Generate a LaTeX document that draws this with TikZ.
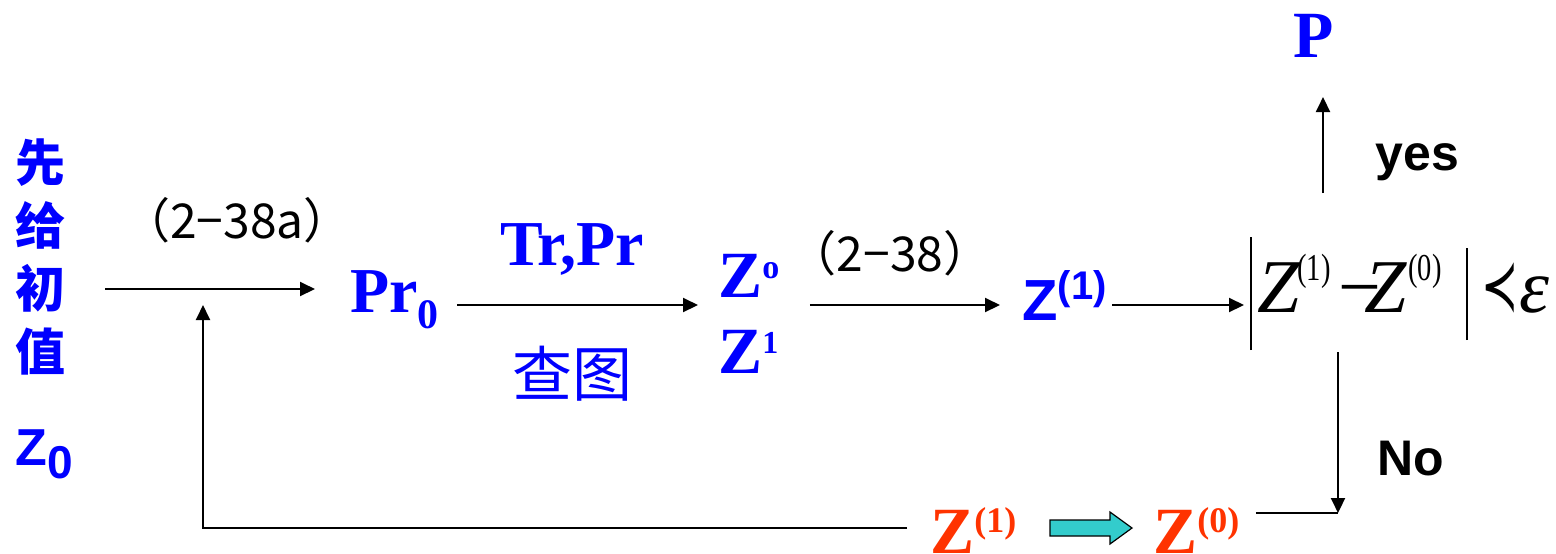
\documentclass[tikz,border=0pt]{standalone}
\usepackage{fontspec}
\setmainfont{Liberation Serif}
\setsansfont{Liberation Sans}
\newfontfamily\cjk{Noto Sans CJK SC}
\newfontfamily\relfont{DejaVu Sans}
\usetikzlibrary{arrows.meta}

\definecolor{zblue}{RGB}{0,0,255}
\definecolor{zred}{RGB}{255,51,0}
\definecolor{zteal}{RGB}{51,204,204}

\newcommand{\fs}[1]{\fontsize{#1}{#1}\selectfont}

\begin{document}
\begin{tikzpicture}[x=0.5pt, y=-0.5pt,
  arr/.style={-{Triangle[length=7.5pt,width=7pt]}, line width=1pt},
  lbl/.style={inner sep=0pt, anchor=base}]
  \useasboundingbox (0,0) rectangle (1556,553);

  % ---- start value ----
  \node[lbl, anchor=north, text=zblue, align=center,
    font=\cjk\bfseries\fontsize{25}{31.5}\selectfont] (init) at (40,138) {先\\给\\初\\值};
  \node[lbl, anchor=base west, text=zblue, font=\sffamily\bfseries\fs{26}] (zstart) at (15,465)
    {Z\raisebox{-6.5pt}{\fs{23}0}};

  % ---- first step ----
  \node[lbl, font=\cjk\fs{24}] (eqa) at (237,238) {（2−38a）};
  \node[lbl, anchor=base west, text=zblue, font=\bfseries\fs{32}] (pr0) at (350,312)
    {Pr\raisebox{-8pt}{\fs{21}0}};
  \node[lbl, text=zblue, font=\bfseries\fs{32}] (trpr) at (572,265) {Tr,Pr};
  \node[lbl, text=zblue, font=\cjk\fs{30}] (chart) at (572,396) {查图};
  \node[lbl, anchor=base west, text=zblue, font=\bfseries\fs{33}] (zsup0) at (718,297)
    {Z\raisebox{9.5pt}{\fs{17}o}};
  \node[lbl, anchor=base west, text=zblue, font=\bfseries\fs{33}] (zsup1) at (718,373)
    {Z\raisebox{10pt}{\fs{16}1}};

  % ---- second step ----
  \node[lbl, font=\cjk\fs{24}] (eqb) at (890,271) {（2−38）};
  \node[lbl, anchor=base west, text=zblue, font=\sffamily\bfseries\fs{29}] (znew) at (1022,320)
    {Z\raisebox{10.5pt}{\fs{20}(1)}};

  % ---- test ----
  \node[lbl, anchor=base west] (crit) at (1250,312) {\fs{38}%
    \vrule width 1pt height 37.5pt depth 19pt\kern2.5pt\textit{Z}\kern-1.5pt%
    \raisebox{16pt}{\scalebox{0.75}[1]{\fs{19}(1)}}\kern4pt−\kern-8.5pt\textit{Z}\kern0.5pt%
    \raisebox{16pt}{\scalebox{0.75}[1]{\fs{19}(0)}}\kern12pt%
    \vrule width 1pt height 32pt depth 14pt\kern7pt%
    \raisebox{1pt}{\scalebox{0.62}[1]{\relfont\fs{36}≺}}\kern0.5pt\textit{ε}};
  \node[lbl, text=zblue, font=\bfseries\fs{33}] (pout) at (1314,57) {P};
  \node[lbl, anchor=base west, font=\sffamily\bfseries\fs{25}] (yes) at (1375,170) {yes};
  \node[lbl, anchor=base west, font=\sffamily\bfseries\fs{25}] (no) at (1377,475) {No};

  % ---- replace ----
  \node[lbl, anchor=base west, text=zred, font=\bfseries\fs{33}] (zr1) at (930,553)
    {Z\raisebox{10.5pt}{\fs{18}(1)}};
  \node[lbl, anchor=base west, text=zred, font=\bfseries\fs{33}] (zr0) at (1153,553)
    {Z\raisebox{10.5pt}{\fs{18}(0)}};
  % block arrow between them
  \draw[fill=zteal, line width=0.6pt] (1050,520) -- (1110,520) -- (1110,512) -- (1132,528)
    -- (1110,544) -- (1110,536) -- (1050,536) -- cycle;

  % ---- connectors ----
  \coordinate (row1) at (0,289);
  \coordinate (row2) at (0,305);
  \coordinate (yesfoot) at (1323,193);
  \coordinate (corner) at (1338,513);
  \coordinate (fb) at (203,528);
  \draw[arr, shorten <=20pt, shorten >=17.5pt] (init.east |- row1) -- (pr0.west |- row1);
  \draw[arr, shorten <=9pt, shorten >=10pt] (pr0.east |- row2) -- (zsup0.west |- row2);
  \draw[arr, shorten <=15pt, shorten >=11pt] (zsup0.east |- row2) -- (znew.west |- row2);
  \draw[arr, shorten <=2.5pt, shorten >=3pt] (znew.east |- row2) -- (crit.west |- row2);
  \draw[arr, shorten >=20pt] (yesfoot) -- (yesfoot |- pout.base);
  \draw[arr, shorten <=1pt] (corner |- crit.south) -- (corner);
  \draw[line width=1pt, shorten <=8pt] (zr0.east |- corner) -- (corner);
  \draw[arr, shorten <=11.5pt, shorten >=8pt] (zr1.west |- fb) -| (fb |- row1);
\end{tikzpicture}
\end{document}
